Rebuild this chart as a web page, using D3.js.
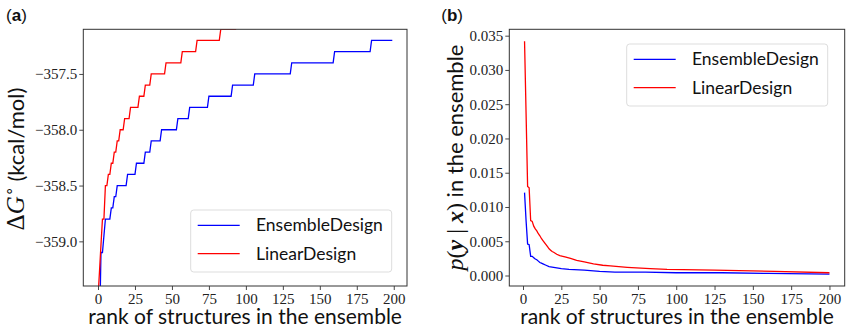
<!DOCTYPE html>
<html>
  <head>
    <meta charset="utf-8">
    <title>Ensemble ranks</title>
    <script src="https://cdn.jsdelivr.net/npm/d3@7"></script>
    <style>
      body { margin: 0; background: #fff; }
      .tick text { font-family: "Liberation Serif", serif; font-size: 15px; fill: #222; }
      .lab { font-family: Lato, sans-serif; fill: #111; }
    </style>
  </head>
  <body>
    <svg width="848" height="326" id="mainsvg"></svg>
    <script>
      const svg = d3.select('#mainsvg');

      const seriesNames = ['EnsembleDesign', 'LinearDesign'];
      const seriesColors = ['#0000ff', '#ff0000'];
      const rankTicks = [0, 25, 50, 75, 100, 125, 150, 175, 200];

      // (a) free energy of ranked structures, stored as stairs: first rank of each level + level
      const ensStepRank = [0, 1, 2, 4, 5, 9, 11, 13, 20, 26, 32, 36, 43, 54, 62, 75, 91, 106, 131, 160, 185];
      const ensStepDG = [-360.6, -359.85, -359.1, -358.95, -358.8, -358.7, -358.6, -358.5, -358.4, -358.3, -358.2,
                         -358.1, -358.0, -357.9, -357.8, -357.7, -357.6, -357.5, -357.4, -357.3, -357.2];
      const ensLastRank = 199;
      const linStepRank = [0, 1, 2, 3, 5, 7, 9, 11, 13, 15, 18, 22, 28, 32, 36, 46, 57, 67, 83, 94];
      const linStepDG = [-359.5, -359.27, -359.03, -358.8, -358.5, -358.4, -358.3, -358.2, -358.1, -358.0, -357.9,
                         -357.8, -357.7, -357.6, -357.5, -357.4, -357.3, -357.2, -357.1, -357.0];
      const linLastRank = 96;
      const dgTicks = [-359.0, -358.5, -358.0, -357.5];

      // (b) probability of each ranked structure
      const ensRank = [1, 2, 3, 4, 5, 6, 7, 8, 9, 10, 11, 12, 13, 15, 17, 20, 25, 30, 40, 50, 60, 80, 100, 130, 160, 200];
      const ensProb = [0.0121, 0.0080, 0.0046, 0.0045, 0.0028, 0.0028, 0.0026, 0.0024, 0.0023, 0.0021, 0.0019, 0.0018,
                       0.0017, 0.0015, 0.0013, 0.0012, 0.0010, 0.0009, 0.0008, 0.0006, 0.0005, 0.0005, 0.0004, 0.0004,
                       0.0003, 0.0002];
      const linRank = [1, 2, 3, 4, 5, 6, 7, 8, 9, 10, 11, 12, 13, 14, 15, 16, 17, 18, 19, 20, 22, 24, 28, 31, 35, 40,
                       46, 52, 57, 68, 83, 94, 125, 164, 200];
      const linProb = [0.0342, 0.0236, 0.0130, 0.0128, 0.0080, 0.0079, 0.0072, 0.0068, 0.0065, 0.0061, 0.0058, 0.0054,
                       0.0051, 0.0048, 0.0045, 0.0042, 0.0039, 0.0037, 0.0035, 0.0034, 0.0031, 0.0029, 0.0027, 0.0025,
                       0.0022, 0.0020, 0.0017, 0.0015, 0.0014, 0.0012, 0.0010, 0.0009, 0.0008, 0.0006, 0.0004];
      const probTicks = [0, 0.005, 0.010, 0.015, 0.020, 0.025, 0.030, 0.035];

      // stairs -> polyline vertices, each level held until the rank before the next one
      const stairs = (starts, levels, last) => {
        const pts = [];
        starts.forEach((s, i) => {
          const end = i < starts.length - 1 ? starts[i + 1] - 1 : last;
          pts.push([s, levels[i]]);
          if (end > s) pts.push([end, levels[i]]);
        });
        return pts;
      };

      const panels = [
        {
          id: 'a', left: 83.3, right: 407, top: 29.3, bottom: 286,
          xDomain: [-9.95, 208.95], yDomain: [-359.4, -357.1],
          yTicks: dgTicks, yFmt: d3.format('.1f'),
          series: [stairs(ensStepRank, ensStepDG, ensLastRank), stairs(linStepRank, linStepDG, linLastRank)],
          legend: {x: 190.7, y: 210}
        },
        {
          id: 'b', left: 509.3, right: 844.7, top: 29.3, bottom: 286,
          xDomain: [-8.95, 209.95], yDomain: [-0.00153, 0.03593],
          yTicks: probTicks, yFmt: d3.format('.3f'),
          series: [ensRank.map((r, i) => [r, ensProb[i]]), linRank.map((r, i) => [r, linProb[i]])],
          legend: {x: 626.7, y: 44}
        }
      ];

      panels.forEach(p => {
        const x = d3.scaleLinear().domain(p.xDomain).range([p.left, p.right]);
        const y = d3.scaleLinear().domain(p.yDomain).range([p.bottom, p.top]);
        const g = svg.append('g');

        g.append('clipPath').attr('id', 'clip-' + p.id)
          .append('rect').attr('x', p.left).attr('y', p.top)
          .attr('width', p.right - p.left).attr('height', p.bottom - p.top);

        const line = d3.line().x(d => x(d[0])).y(d => y(d[1]));
        g.append('g').attr('clip-path', `url(#clip-${p.id})`)
          .selectAll('path').data(p.series).join('path')
          .attr('fill', 'none')
          .attr('stroke', (d, i) => seriesColors[i])
          .attr('stroke-width', 1.3)
          .attr('d', line);

        // axes
        const xAxis = g.append('g').attr('transform', `translate(0,${p.bottom})`)
          .call(d3.axisBottom(x).tickValues(rankTicks).tickSize(4).tickPadding(3));
        const yAxis = g.append('g').attr('transform', `translate(${p.left},0)`)
          .call(d3.axisLeft(y).tickValues(p.yTicks).tickFormat(p.yFmt).tickSize(4).tickPadding(2));
        [xAxis, yAxis].forEach(a => {
          a.select('.domain').remove();
          a.selectAll('.tick line').attr('stroke', '#333').attr('stroke-width', 0.9);
        });

        // frame
        g.append('rect').attr('x', p.left).attr('y', p.top)
          .attr('width', p.right - p.left).attr('height', p.bottom - p.top)
          .attr('fill', 'none').attr('stroke', '#333').attr('stroke-width', 1);

        g.append('text').attr('class', 'lab')
          .attr('x', (p.left + p.right) / 2).attr('y', 324)
          .attr('text-anchor', 'middle').attr('font-size', 21)
          .text('rank of structures in the ensemble');

        // legend
        const lg = g.append('g').attr('transform', `translate(${p.legend.x},${p.legend.y})`);
        lg.append('rect').attr('width', 201).attr('height', 62).attr('rx', 3)
          .attr('fill', '#fff').attr('fill-opacity', 0.8).attr('stroke', '#ddd');
        seriesNames.forEach((name, i) => {
          const cy = 15.3 + i * 28.4;
          lg.append('line').attr('x1', 7).attr('x2', 49).attr('y1', cy).attr('y2', cy)
            .attr('stroke', seriesColors[i]).attr('stroke-width', 1.3);
          lg.append('text').attr('class', 'lab').attr('x', 65.3).attr('y', cy + 6)
            .attr('font-size', 17.5).text(name);
        });
      });

      // y labels
      const serif = '"Liberation Serif", serif';
      const ya = svg.append('text').attr('class', 'lab')
        .attr('transform', 'translate(24,159) rotate(-90)')
        .attr('text-anchor', 'middle').attr('font-size', 22);
      ya.append('tspan').attr('font-family', serif).attr('font-size', 25).text('Δ');
      ya.append('tspan').attr('font-family', serif).attr('font-size', 25).attr('font-style', 'italic').text('G');
      ya.append('tspan').attr('font-family', serif).attr('font-size', 15).attr('dy', -10).text('∘');
      ya.append('tspan').attr('dy', 10).text(' (kcal/mol)');

      const yb = svg.append('text').attr('class', 'lab')
        .attr('transform', 'translate(463,157.5) rotate(-90)')
        .attr('text-anchor', 'middle').attr('font-size', 22);
      yb.append('tspan').attr('font-family', serif).attr('font-size', 24).attr('font-style', 'italic').text('p');
      yb.append('tspan').attr('font-family', serif).attr('font-size', 24).text('(');
      yb.append('tspan').attr('font-family', serif).attr('font-size', 24).attr('font-style', 'italic').attr('font-weight', 'bold').text('y');
      yb.append('tspan').attr('font-family', serif).attr('font-size', 24).text(' | ');
      yb.append('tspan').attr('font-family', serif).attr('font-size', 24).attr('font-style', 'italic').attr('font-weight', 'bold').text('x');
      yb.append('tspan').attr('font-family', serif).attr('font-size', 24).text(')');
      yb.append('tspan').text(' in the ensemble');

      // panel letters
      [{k: 'a', x: 6}, {k: 'b', x: 441.3}].forEach(l => {
        svg.append('text').attr('x', l.x).attr('y', 20.5)
          .attr('font-family', '"Liberation Sans", Arial, sans-serif').attr('font-size', 17)
          .attr('fill', '#111')
          .selectAll('tspan').data(['(', l.k, ')']).join('tspan')
          .attr('font-weight', d => d === l.k ? 'bold' : 'normal').text(d => d);
      });
    </script>
  </body>
</html>
